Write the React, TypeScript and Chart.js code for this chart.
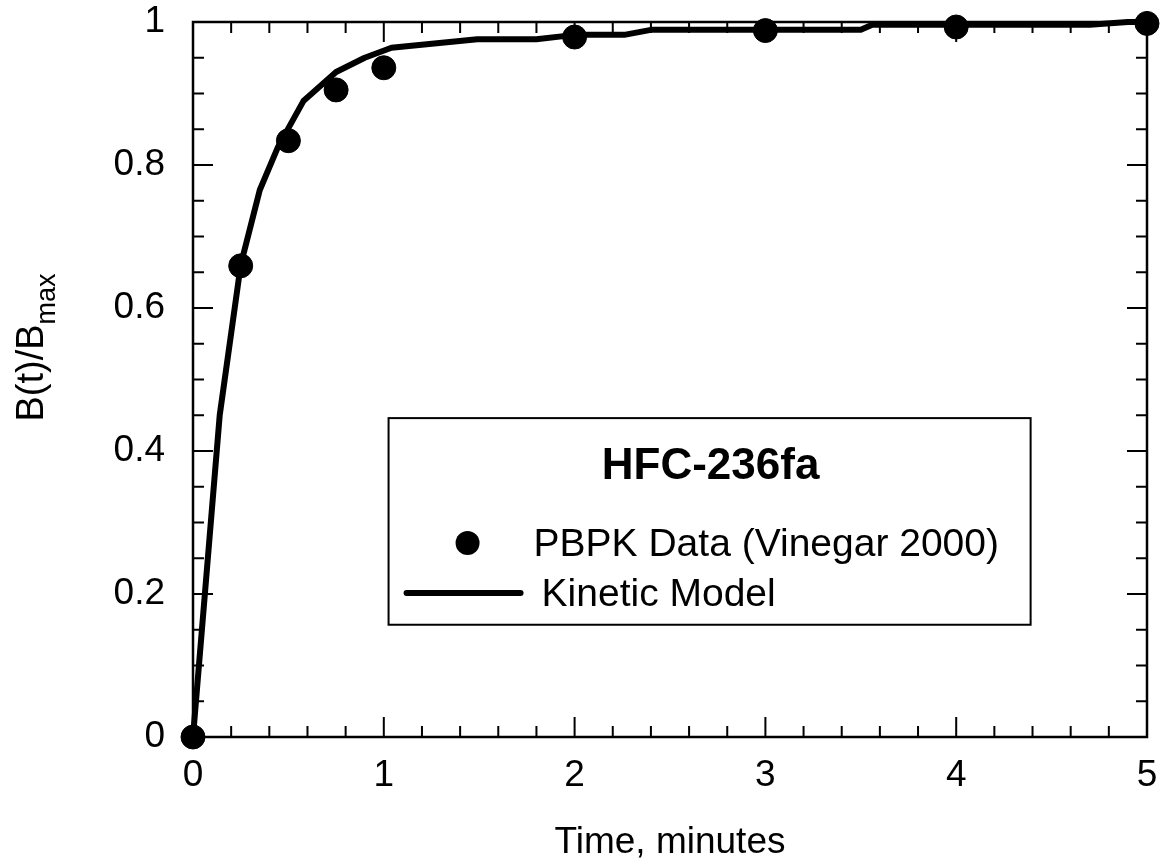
import React, { useEffect, useRef } from "react";
import { Chart, registerables } from "chart.js";

Chart.register(...registerables);

// ---- data ----
const pbpkTime = [0, 0.25, 0.5, 0.75, 1, 2, 3, 4, 5];
const pbpkValue = [0, 0.659, 0.834, 0.905, 0.936, 0.979, 0.988, 0.993, 0.998];

const modelTime = [0, 0.14, 0.25, 0.35, 0.445, 0.58, 0.75, 0.9, 1.04, 1.49, 1.8, 2.0, 2.26, 2.4, 3.0, 3.5, 3.56, 4.7, 4.9, 5.0];
const modelValue = [0, 0.45, 0.66, 0.765, 0.825, 0.89, 0.93, 0.95, 0.964, 0.976, 0.976, 0.982, 0.982, 0.989, 0.989, 0.989, 0.996, 0.996, 1.0, 1.0];

const xTickValues = [0, 1, 2, 3, 4, 5];
const yTickValues = [0, 0.2, 0.4, 0.6, 0.8, 1];

const legendTitle = "HFC-236fa";
const pbpkLabel = "PBPK Data (Vinegar 2000)";
const modelLabel = "Kinetic Model";
const xTitle = "Time, minutes";
const yTitleMain = "B(t)/B";
const yTitleSub = "max";

const FONT = '"Liberation Sans", Arial, Helvetica, sans-serif';

const framePlugin = {
  id: "frameTicks",
  afterDatasetsDraw(chart: any) {
    const { ctx, chartArea: ca, scales } = chart;
    const xs = scales.x;
    const ys = scales.y;
    ctx.save();
    ctx.strokeStyle = "#000";
    ctx.lineWidth = 2.5;
    ctx.strokeRect(ca.left, ca.top, ca.right - ca.left, ca.bottom - ca.top);

    ctx.lineWidth = 2;
    const major = 20;
    const minor = 11;
    // x ticks (bottom and top)
    for (let i = 0; i <= 25; i++) {
      const v = i * 0.2;
      const px = xs.getPixelForValue(v);
      const len = i % 5 === 0 ? major : minor;
      ctx.beginPath();
      ctx.moveTo(px, ca.bottom);
      ctx.lineTo(px, ca.bottom - len);
      ctx.moveTo(px, ca.top);
      ctx.lineTo(px, ca.top + len);
      ctx.stroke();
    }
    // y ticks (left and right)
    for (let i = 0; i <= 20; i++) {
      const v = i * 0.05;
      const py = ys.getPixelForValue(v);
      const len = i % 4 === 0 ? major : minor;
      ctx.beginPath();
      ctx.moveTo(ca.left, py);
      ctx.lineTo(ca.left + len, py);
      ctx.moveTo(ca.right, py);
      ctx.lineTo(ca.right - len, py);
      ctx.stroke();
    }

    // y axis title with subscript
    ctx.fillStyle = "#000";
    ctx.save();
    const mainFont = `38px ${FONT}`;
    const subFont = `27px ${FONT}`;
    ctx.font = mainFont;
    const wMain = ctx.measureText(yTitleMain).width;
    ctx.font = subFont;
    const wSub = ctx.measureText(yTitleSub).width;
    const total = wMain + wSub;
    ctx.translate(43, (ca.top + ca.bottom) / 2 - 32);
    ctx.rotate(-Math.PI / 2);
    ctx.textAlign = "left";
    ctx.textBaseline = "alphabetic";
    ctx.font = mainFont;
    ctx.fillText(yTitleMain, -total / 2, 0);
    ctx.font = subFont;
    ctx.fillText(yTitleSub, -total / 2 + wMain, 12);
    ctx.restore();

    // legend box
    const W = ca.right - ca.left;
    const H = ca.bottom - ca.top;
    const bx0 = ca.left + 0.205 * W;
    const bx1 = ca.left + 0.878 * W;
    const by0 = ca.top + 0.554 * H;
    const by1 = ca.top + 0.843 * H;
    ctx.fillStyle = "#fff";
    ctx.fillRect(bx0, by0, bx1 - bx0, by1 - by0);
    ctx.lineWidth = 2;
    ctx.strokeStyle = "#000";
    ctx.strokeRect(bx0, by0, bx1 - bx0, by1 - by0);

    ctx.fillStyle = "#000";
    ctx.textBaseline = "alphabetic";
    ctx.textAlign = "center";
    ctx.font = `bold 44px ${FONT}`;
    ctx.fillText(legendTitle, (bx0 + bx1) / 2 + 1, by0 + 61);

    ctx.textAlign = "left";
    ctx.font = `39px ${FONT}`;
    ctx.beginPath();
    ctx.arc(bx0 + 79, by0 + 125, 12, 0, Math.PI * 2);
    ctx.fill();
    ctx.fillText(pbpkLabel, bx0 + 145, by0 + 138);

    ctx.lineWidth = 6;
    ctx.lineCap = "round";
    ctx.beginPath();
    ctx.moveTo(bx0 + 18, by0 + 175);
    ctx.lineTo(bx0 + 132, by0 + 175);
    ctx.stroke();
    ctx.fillText(modelLabel, bx0 + 153, by0 + 188);

    ctx.restore();
  },
};

export default function App() {
  const canvasRef = useRef<HTMLCanvasElement | null>(null);

  useEffect(() => {
    const canvas = canvasRef.current;
    if (!canvas) return;
    const chart = new Chart(canvas, {
      type: "scatter",
      data: {
        datasets: [
          {
            label: pbpkLabel,
            data: pbpkTime.map((t, i) => ({ x: t, y: pbpkValue[i] })),
            backgroundColor: "#000",
            borderColor: "#000",
            pointRadius: 12,
            pointHoverRadius: 12,
            order: 0,
            clip: false,
          },
          {
            label: modelLabel,
            data: modelTime.map((t, i) => ({ x: t, y: modelValue[i] })),
            showLine: true,
            borderColor: "#000",
            backgroundColor: "#000",
            borderWidth: 6,
            pointRadius: 0,
            tension: 0,
            borderJoinStyle: "round",
            borderCapStyle: "round",
            order: 1,
            clip: false,
          } as any,
        ],
      },
      options: {
        animation: false,
        responsive: true,
        maintainAspectRatio: false,
        layout: { padding: { top: 22, right: 14, left: 0, bottom: 0 } },
        plugins: {
          legend: { display: false },
          tooltip: { enabled: false },
        },
        scales: {
          x: {
            type: "linear",
            min: 0,
            max: 5,
            afterBuildTicks: (scale: any) => {
              scale.ticks = xTickValues.map((v) => ({ value: v }));
            },
            afterFit: (scale: any) => {
              scale.height = 128;
              scale.paddingLeft = 0;
              scale.paddingRight = 0;
            },
            grid: { display: false, drawTicks: false },
            border: { display: false },
            ticks: {
              color: "#000",
              font: { family: FONT, size: 37 },
              padding: 17,
              maxRotation: 0,
              callback: (v: any) => String(v),
            },
            title: {
              display: true,
              text: xTitle,
              color: "#000",
              font: { family: FONT, size: 37 },
              padding: { top: 3, bottom: 0 },
            },
          },
          y: {
            type: "linear",
            min: 0,
            max: 1,
            afterBuildTicks: (scale: any) => {
              scale.ticks = yTickValues.map((v) => ({ value: v }));
            },
            afterFit: (scale: any) => {
              scale.width = 193;
              scale.paddingTop = 0;
              scale.paddingBottom = 0;
            },
            grid: { display: false, drawTicks: false },
            border: { display: false },
            ticks: {
              color: "#000",
              font: { family: FONT, size: 37 },
              padding: 28,
              callback: (v: any) => String(Number(Number(v).toFixed(2))),
            },
          },
        },
      },
      plugins: [framePlugin],
    });
    return () => chart.destroy();
  }, []);

  return (
    <div style={{ position: "fixed", left: 0, top: 0, width: 1161, height: 865, background: "#fff" }}>
      <canvas ref={canvasRef} />
    </div>
  );
}
